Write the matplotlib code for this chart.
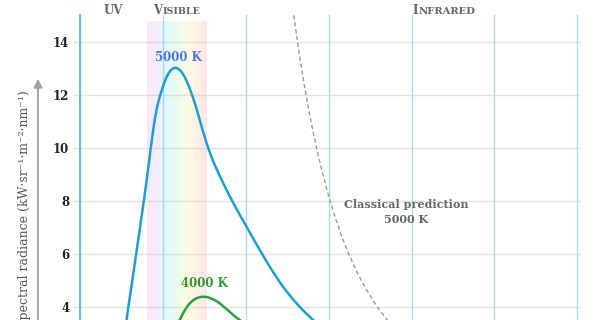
import numpy as np
import matplotlib
matplotlib.use("Agg")
import matplotlib.pyplot as plt
from matplotlib.colors import LinearSegmentedColormap

# values (wavelength in nm, radiance in kW/sr/m2/nm)
wl_5000 = [268, 279, 289, 300, 312, 324, 335, 348, 360, 373, 386, 396, 405, 415,
           424, 435, 445, 455, 467, 480, 492, 505, 520, 535, 550, 565, 578, 592,
           606, 620, 635, 650, 665, 680, 695, 710, 725, 740, 760, 780, 800, 820,
           842, 865, 890, 915, 940, 965, 1000, 1030, 1060, 1093, 1130, 1165, 1203,
           1240, 1280, 1320, 1350, 1385, 1420, 1460]
rad_5000 = [3.0, 3.51, 3.95, 4.42, 4.93, 5.44, 5.91, 6.47, 6.99, 7.56, 8.12, 8.58,
            9.02, 9.5, 9.95, 10.46, 10.9, 11.28, 11.65, 11.96, 12.2, 12.45, 12.68,
            12.86, 12.97, 13.03, 13.04, 13.0, 12.92, 12.8, 12.63, 12.42, 12.18,
            11.92, 11.63, 11.31, 10.98, 10.65, 10.24, 9.87, 9.54, 9.25, 8.95, 8.65,
            8.33, 8.03, 7.74, 7.46, 7.07, 6.74, 6.41, 6.05, 5.66, 5.31, 4.95, 4.63,
            4.32, 4.04, 3.84, 3.63, 3.43, 3.22]

wl_4000 = [585, 600, 615, 630, 645, 661, 680, 700, 725, 751, 775, 800, 820, 842,
           870, 902, 930, 962, 990]
rad_4000 = [3.35, 3.51, 3.7, 3.87, 4.02, 4.14, 4.25, 4.33, 4.38, 4.39, 4.36, 4.3,
            4.23, 4.14, 3.99, 3.82, 3.66, 3.51, 3.38]

wl_classic = [1283, 1300, 1325, 1350, 1375, 1400, 1430, 1460, 1500, 1540, 1580,
              1620, 1670, 1720, 1780, 1840, 1880]
rad_classic = [15.28, 14.5, 13.43, 12.46, 11.58, 10.78, 9.9, 9.11, 8.18, 7.36,
               6.64, 6.01, 5.32, 4.73, 4.12, 3.61, 3.31]

y_ticks = [4, 6, 8, 10, 12, 14]
x_grid = [0, 500, 1000, 1500, 2000, 2500, 3000]
visible_band = (403, 765)
band_colors = ["#f080d8", "#c0a0ff", "#60e0ff", "#90f090", "#f4f060",
               "#ffb070", "#ff7080"]

fig = plt.figure(figsize=(6, 3.2), dpi=100)
ax = fig.add_axes([80.3 / 600, 0, 497 / 600, 306.5 / 320])
ymin, ymax = 3.51, 15.09
ax.set_xlim(0, 3000)
ax.set_ylim(ymin, ymax)
for s in ax.spines.values():
    s.set_visible(False)

serif = "DejaVu Serif"

# grid
ax.hlines(y_ticks, -42, 3016, colors="#e2e2e2", lw=1, clip_on=False, zorder=1)
ax.vlines(x_grid[1:], ymin, ymax, colors="#a8dcef", lw=1, clip_on=False, zorder=1)
ax.vlines(x_grid[0], ymin, ymax, colors="#3cb6e6", lw=1.2, clip_on=False, zorder=1)

# visible spectrum band
cmap = LinearSegmentedColormap.from_list("vis", band_colors)
grad = np.linspace(0, 1, 256).reshape(1, -1)
ax.imshow(grad, cmap=cmap, aspect="auto", alpha=0.18, zorder=2,
          extent=(visible_band[0], visible_band[1], ymin, 14.77))

# curves
ax.plot(wl_5000, rad_5000, color="#1a9fd4", lw=1.8, zorder=4)
ax.plot(wl_4000, rad_4000, color="#2ba042", lw=1.8, zorder=4)
ax.plot(wl_classic, rad_classic, color="#9a9a9a", lw=1, ls=(0, (3, 2)), zorder=3)

# labels on curves
ax.text(591, 13.44, "5000 K", color="#4a78e6", fontsize=8.5, fontweight="bold",
        family=serif, ha="center", va="center", zorder=5)
ax.text(747, 4.9, "4000 K", color="#2f9a2c", fontsize=8.5, fontweight="bold",
        family=serif, ha="center", va="center", zorder=5)
ax.text(1966, 7.6, "Classical prediction\n5000 K", color="#666666", fontsize=8,
        fontweight="bold", family=serif, ha="center", va="center",
        linespacing=1.45, zorder=5)

# region labels (small caps)
top_y = ymax + 0.1
ax.text(200, top_y, "UV", color="#666666", fontsize=8.5, fontweight="bold",
        family=serif, ha="center", va="center", clip_on=False)
ax.text(497, top_y, "V", color="#666666", fontsize=8.5, fontweight="bold",
        family=serif, ha="right", va="center", clip_on=False)
ax.text(497, top_y - 0.04, "ISIBLE", color="#666666", fontsize=6.8, fontweight="bold",
        family=serif, ha="left", va="center", clip_on=False)
ax.text(2040, top_y, "I", color="#666666", fontsize=8.5, fontweight="bold",
        family=serif, ha="right", va="center", clip_on=False)
ax.text(2040, top_y - 0.04, "NFRARED", color="#666666", fontsize=7.2,
        fontweight="bold", family=serif, ha="left", va="center", clip_on=False)

# y ticks
ax.set_xticks([])
ax.set_yticks(y_ticks)
ax.set_yticklabels([str(t) for t in y_ticks], fontsize=8.5, fontweight="bold",
                   family=serif, color="#222222")
ax.tick_params(axis="y", length=0, pad=8)

# y axis arrow and label
fig.patches.append(matplotlib.patches.FancyArrowPatch(
    (38 / 600, -0.02), (38 / 600, 1 - 76 / 320), transform=fig.transFigure,
    arrowstyle="-|>,head_length=5,head_width=2.5", color="#a0a0a0",
    lw=1.3, mutation_scale=1))
fig.text(25 / 600, 1 - 90 / 320, "Spectral radiance (kW·sr⁻¹·m⁻²·nm⁻¹)",
         rotation=90, ha="center", va="top", fontsize=9.0, family=serif,
         color="#555555", transform=fig.transFigure)

fig.savefig("out.png", dpi=100)
